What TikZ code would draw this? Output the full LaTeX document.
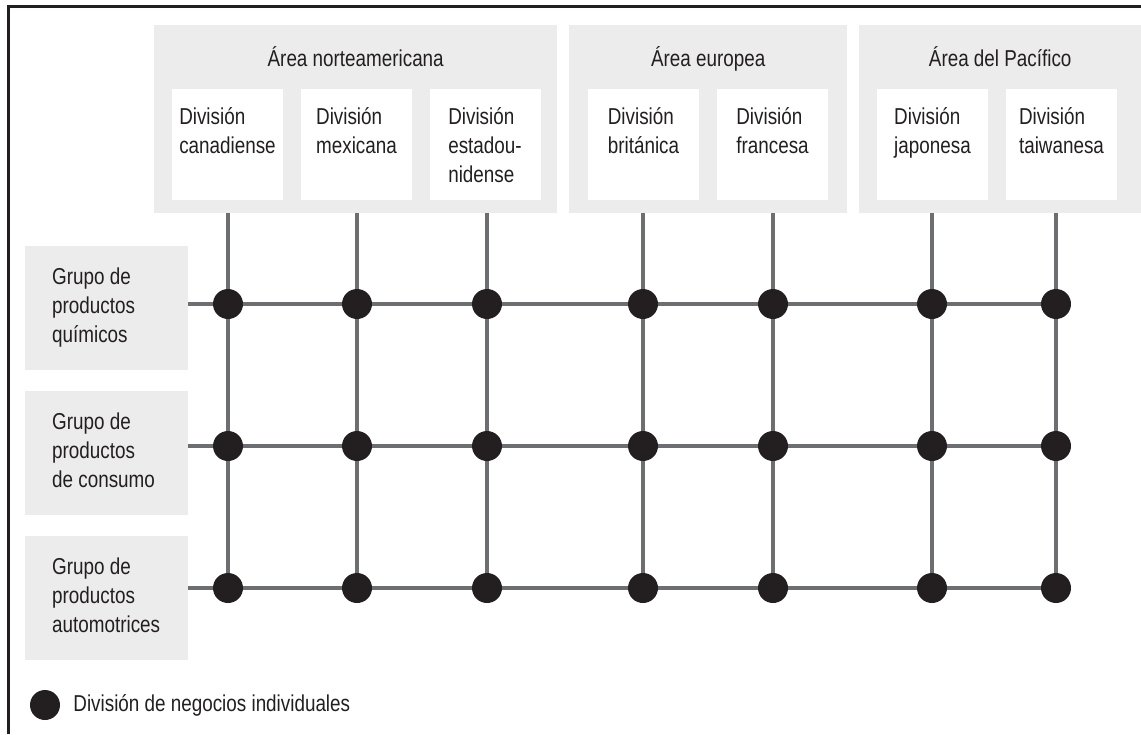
\documentclass[tikz,border=0pt]{standalone}
\usepackage{fontspec}
\setmainfont{Liberation Sans}[FakeStretch=0.82]
\usetikzlibrary{positioning,calc}

\definecolor{lineagris}{HTML}{6D6E71}
\definecolor{fondogris}{HTML}{ECECEC}
\definecolor{tinta}{HTML}{231F20}

\begin{document}
\begin{tikzpicture}[x=1pt,y=-1pt,
    every node/.style={text=tinta, font=\fontsize{23}{29}\selectfont},
    zona/.style={fill=fondogris, inner sep=0pt, minimum height=188, anchor=north west},
    division/.style={fill=white, inner sep=0pt, minimum width=111, minimum height=111, anchor=north},
    rotulo/.style={align=left, inner sep=0pt, anchor=base},
    grupo/.style={fill=fondogris, inner sep=0pt, minimum width=163, minimum height=124, anchor=north west},
    enlace/.style={draw=lineagris, line width=4pt},
    unidad/.style={circle, fill=tinta, inner sep=0pt, minimum size=30}]

    \useasboundingbox (0,0) rectangle (1141,734);

    % Frame, left and top only
    \draw[tinta, line width=3pt, line join=miter] (8,734) -- (8,6.5) -- (1141,6.5);

    % Areas
    \node[zona, minimum width=403] (nam) at (154,25) {};
    \node[zona, minimum width=278] (eur) at (569,25) {};
    \node[zona, minimum width=282] (pac) at (859,25) {};
    \node[anchor=base] at ($(nam.north)+(0,41)$) {Área norteamericana};
    \node[anchor=base] at ($(eur.north)+(0,41)$) {Área europea};
    \node[anchor=base] at ($(pac.north)+(0,41)$) {Área del Pacífico};

    % Divisions (base = last line, 29pt per line)
    \node[division] (can) at (227.5,89) {};
    \node[division] (mex) at (356.5,89) {};
    \node[division] (usa) at (485,89) {};
    \node[division] (bri) at (643.5,89) {};
    \node[division] (fra) at (772.5,89) {};
    \node[division] (jap) at (932.5,89) {};
    \node[division] (tai) at (1061.5,89) {};
    \node[rotulo] at ($(can.north)+(0,64)$) {División\\canadiense};
    \node[rotulo] at ($(mex.north)+(0,64)$) {División\\mexicana};
    \node[rotulo] at ($(usa.north)+(0,93)$) {División\\estadou-\\nidense};
    \node[rotulo] at ($(bri.north)+(0,64)$) {División\\británica};
    \node[rotulo] at ($(fra.north)+(0,64)$) {División\\francesa};
    \node[rotulo] at ($(jap.north)+(0,64)$) {División\\japonesa};
    \node[rotulo] at ($(tai.north)+(0,64)$) {División\\taiwanesa};

    % Product groups
    \node[grupo] (qui) at (25,246) {};
    \node[grupo] (con) at (25,391) {};
    \node[grupo] (aut) at (25,536) {};
    \node[rotulo, anchor=base west] at ($(qui.north west)+(27,96)$) {Grupo de\\productos\\químicos};
    \node[rotulo, anchor=base west] at ($(con.north west)+(27,96)$) {Grupo de\\productos\\de consumo};
    \node[rotulo, anchor=base west] at ($(aut.north west)+(27,96)$) {Grupo de\\productos\\automotrices};

    % Grid
    \foreach \x [count=\i] in {228,357,487,643,773,932,1056}
      \foreach \y [count=\j] in {304,446,588}
        \coordinate (c\i-\j) at (\x,\y);
    \foreach \ar [count=\i] in {nam,nam,nam,eur,eur,pac,pac}
      \draw[enlace] (c\i-1 |- \ar.south) -- (c\i-3);
    \foreach \g [count=\j] in {qui,con,aut}
      \draw[enlace] (\g.east |- c1-\j) -- (c7-\j);
    \foreach \i in {1,...,7}
      \foreach \j in {1,2,3}
        \node[unidad] (u\i-\j) at (c\i-\j) {};

    % Legend
    \node[unidad] (ley) at (45,705) {};
    \node[inner sep=0pt, right=13pt of ley] {División de negocios individuales};
  \end{tikzpicture}
\end{document}
